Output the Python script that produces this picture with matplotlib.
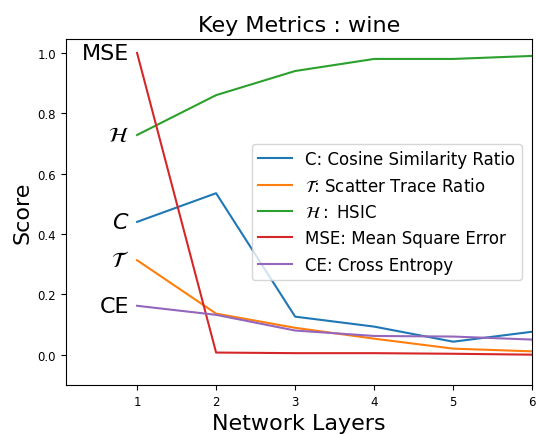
import matplotlib
matplotlib.use("Agg")
import matplotlib.pyplot as plt

layers = [1, 2, 3, 4, 5, 6]
cos_ratio = [0.44, 0.535, 0.126, 0.093, 0.043, 0.076]
scatter_ratio = [0.313, 0.136, 0.089, 0.053, 0.02, 0.011]
hsic = [0.728, 0.86, 0.94, 0.98, 0.98, 0.99]
mse = [1.0, 0.007, 0.005, 0.005, 0.003, 0.0]
ce = [0.162, 0.132, 0.08, 0.062, 0.06, 0.05]

legend_labels = ["C: Cosine Similarity Ratio", r"$\mathcal{T}$: Scatter Trace Ratio",
                 r"$\mathcal{H}:$ HSIC", "MSE: Mean Square Error", "CE: Cross Entropy"]
side_labels = [r"$C$", r"$\mathcal{T}$", r"$\mathcal{H}$", "MSE", "CE"]
series = [cos_ratio, scatter_ratio, hsic, mse, ce]
colors = ["#1f77b4", "#ff7f0e", "#2ca02c", "#d62728", "#9467bd"]

fig = plt.figure(figsize=(5.36, 4.35), dpi=100)
ax = fig.add_axes([0.123, 0.113, 0.870, 0.795])
for s, lab, c, sl in zip(series, legend_labels, colors, side_labels):
    ax.plot(layers, s, color=c, label=lab, lw=1.5)
    ax.text(0.9, s[0], sl, ha="right", va="center", fontsize=16)

ax.set_xlim(0.1, 6)
ax.set_ylim(-0.1, 1.046)
ax.set_xticks(layers)
ax.set_yticks([0.0, 0.2, 0.4, 0.6, 0.8, 1.0])
ax.tick_params(labelsize=8.5)
ax.set_title("Key Metrics : wine", fontsize=16)
ax.set_xlabel("Network Layers", fontsize=16)
ax.set_ylabel("Score", fontsize=16)
ax.legend(loc="center right", fontsize=12, bbox_to_anchor=(0.995, 0.5))
fig.savefig("out.png", dpi=100)
